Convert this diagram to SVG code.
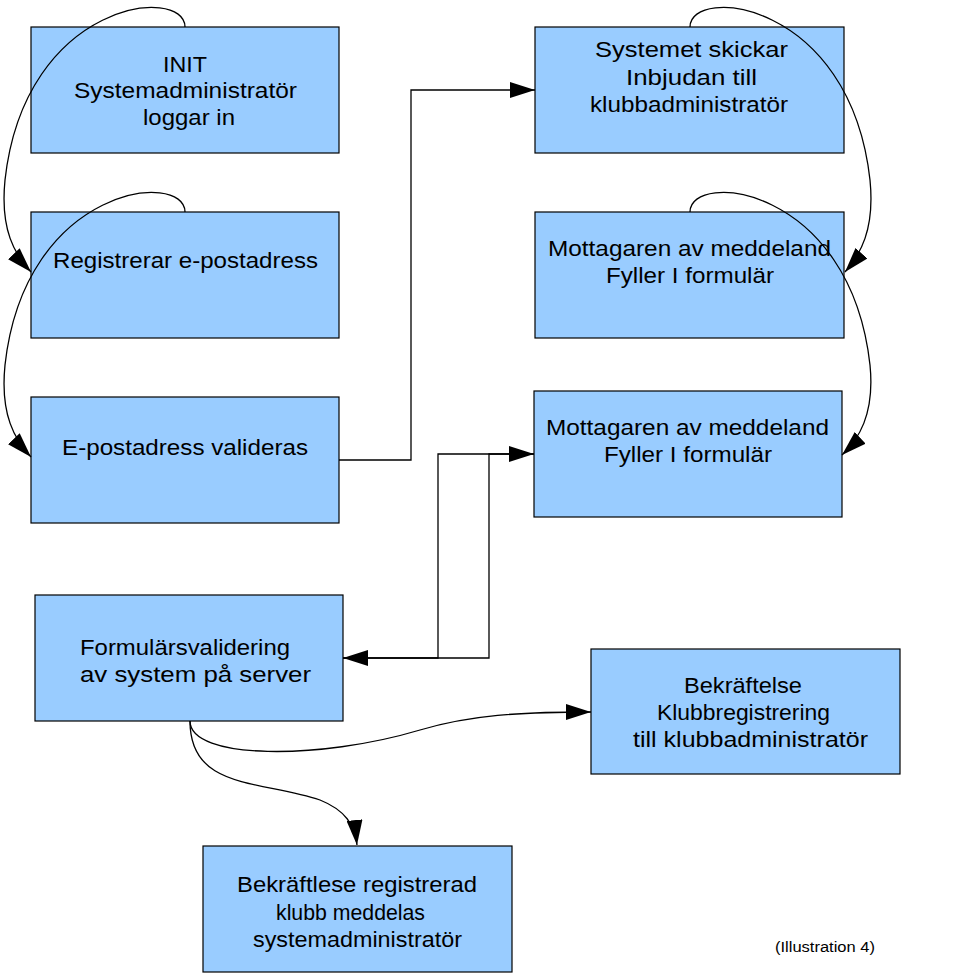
<svg xmlns="http://www.w3.org/2000/svg" width="970" height="973" viewBox="0 0 970 973">
<style>
.box{fill:#99ccff;stroke:#000;stroke-width:1.2}
.t{font-family:"Liberation Sans",Arial,sans-serif;font-size:22px;fill:#000}
.cap{font-family:"Liberation Sans",Arial,sans-serif;font-size:14px;fill:#000}
.c{fill:none;stroke:#000;stroke-width:1.3;marker-end:url(#arr)}
</style>
<defs>
<marker id="arr" viewBox="0 0 25 16" refX="25" refY="8" markerWidth="25" markerHeight="16" markerUnits="userSpaceOnUse" orient="auto">
<path d="M0,0 L25,8 L0,16 z" fill="#000"/>
</marker>
</defs>
<rect width="970" height="973" fill="#fff"/>
<g id="n1"><rect class="box" x="31" y="27" width="308" height="126"/>
<text class="t" x="163" y="72" textLength="44" lengthAdjust="spacingAndGlyphs">INIT</text>
<text class="t" x="74" y="98" textLength="223" lengthAdjust="spacingAndGlyphs">Systemadministratör</text>
<text class="t" x="143" y="125" textLength="92" lengthAdjust="spacingAndGlyphs">loggar in</text></g>
<g id="n2"><rect class="box" x="31" y="212" width="308" height="126"/>
<text class="t" x="53" y="268" textLength="265" lengthAdjust="spacingAndGlyphs">Registrerar e-postadress</text></g>
<g id="n3"><rect class="box" x="31" y="397" width="308" height="126"/>
<text class="t" x="62" y="455" textLength="246" lengthAdjust="spacingAndGlyphs">E-postadress valideras</text></g>
<g id="n4"><rect class="box" x="535" y="27" width="309" height="126"/>
<text class="t" x="595" y="57" textLength="193" lengthAdjust="spacingAndGlyphs">Systemet skickar</text>
<text class="t" x="626" y="85" textLength="131" lengthAdjust="spacingAndGlyphs">Inbjudan till</text>
<text class="t" x="590" y="112" textLength="198" lengthAdjust="spacingAndGlyphs">klubbadministratör</text></g>
<g id="n5"><rect class="box" x="535" y="212" width="309" height="126"/>
<text class="t" x="548" y="256" textLength="283" lengthAdjust="spacingAndGlyphs">Mottagaren av meddeland</text>
<text class="t" x="606" y="283" textLength="168" lengthAdjust="spacingAndGlyphs">Fyller I formulär</text></g>
<g id="n6"><rect class="box" x="534" y="391" width="308" height="126"/>
<text class="t" x="546" y="435" textLength="283" lengthAdjust="spacingAndGlyphs">Mottagaren av meddeland</text>
<text class="t" x="604" y="462" textLength="168" lengthAdjust="spacingAndGlyphs">Fyller I formulär</text></g>
<g id="n7"><rect class="box" x="35" y="595" width="308" height="126"/>
<text class="t" x="80" y="655" textLength="210" lengthAdjust="spacingAndGlyphs">Formulärsvalidering</text>
<text class="t" x="80" y="682" textLength="231" lengthAdjust="spacingAndGlyphs">av system på server</text></g>
<g id="n8"><rect class="box" x="591" y="649" width="309" height="125"/>
<text class="t" x="684" y="693" textLength="118" lengthAdjust="spacingAndGlyphs">Bekräftelse</text>
<text class="t" x="657" y="720" textLength="173" lengthAdjust="spacingAndGlyphs">Klubbregistrering</text>
<text class="t" x="633" y="747" textLength="235" lengthAdjust="spacingAndGlyphs">till klubbadministratör</text></g>
<g id="n9"><rect class="box" x="203" y="846" width="309" height="126"/>
<text class="t" x="237" y="892" textLength="240" lengthAdjust="spacingAndGlyphs">Bekräftlese registrerad</text>
<text class="t" x="276" y="920" textLength="149" lengthAdjust="spacingAndGlyphs">klubb meddelas</text>
<text class="t" x="253" y="947" textLength="209" lengthAdjust="spacingAndGlyphs">systemadministratör</text></g>
<g id="connectors">
<path class="c" d="M185,27 C185,-15 25,0 5,180 C0,230 15,255 31,272"/>
<path class="c" d="M185,212 C185,170 25,185 5,365 C0,415 15,440 31,457"/>
<path class="c" d="M690,27 C690,-15 850,0 870,180 C875,230 860,255 845,272"/>
<path class="c" d="M690,212 C690,170 850,185 870,365 C875,415 858,440 842,455"/>
<path class="c" d="M339,460 H411 V90 H535"/>
<path class="c" d="M343,658 H489 V454 H534"/>
<path class="c" d="M534,454 H438 V658 H343"/>
<path class="c" d="M190,721 C190,760 320,760 420,730 C470,715 520,712 591,712"/>
<path class="c" d="M190,721 C190,790 260,780 320,800 C345,810 355,825 357,845"/>
</g>
<text class="cap" x="775" y="952" textLength="100" lengthAdjust="spacingAndGlyphs">(Illustration 4)</text>
</svg>
